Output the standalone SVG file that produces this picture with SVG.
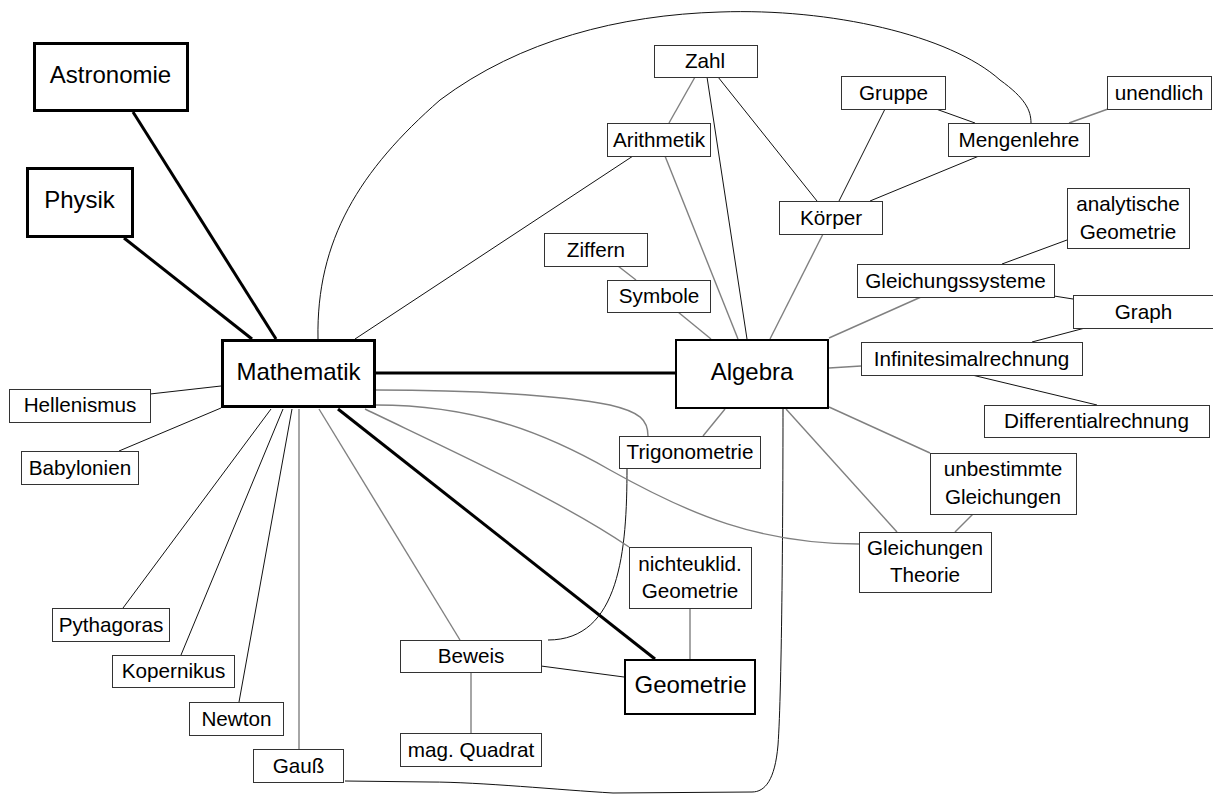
<svg xmlns="http://www.w3.org/2000/svg" width="1213" height="794" viewBox="0 0 1213 794">
<style>
.bg{fill:#fff}
.n rect{fill:#fff;stroke:#333;stroke-width:1}
.b rect{fill:#fff;stroke:#000;stroke-width:3}
.m rect{fill:#fff;stroke:#000;stroke-width:2}
text{font-family:"Liberation Sans",Arial,sans-serif;fill:#000;text-anchor:middle}
.n text{font-size:20.7px}
.b text,.m text{font-size:24px}
.k{stroke:#000;stroke-width:3;fill:none}
.t{stroke:#111;stroke-width:1;fill:none}
.g{stroke:#808080;stroke-width:1.4;fill:none}
</style>
<rect class="bg" x="0" y="0" width="1213" height="794"/>
<g id="connectors">
<line class="k" x1="133" y1="112" x2="276" y2="339"/>
<line class="k" x1="124" y1="238" x2="252" y2="339"/>
<line class="k" x1="376" y1="373" x2="675" y2="373"/>
<line class="k" x1="338" y1="409" x2="655" y2="659"/>
<line class="t" x1="150" y1="394" x2="221" y2="386"/>
<line class="t" x1="119" y1="451" x2="221" y2="408"/>
<line class="t" x1="123" y1="608" x2="271" y2="409"/>
<line class="t" x1="181" y1="655" x2="283" y2="409"/>
<line class="t" x1="239" y1="702" x2="292" y2="409"/>
<line class="t" x1="355" y1="339" x2="633" y2="156"/>
<line class="t" x1="707" y1="77" x2="747" y2="339"/>
<line class="t" x1="718" y1="77" x2="817" y2="201"/>
<line class="t" x1="885" y1="109" x2="839" y2="201"/>
<line class="t" x1="936" y1="109" x2="975" y2="123"/>
<line class="t" x1="979" y1="156" x2="870" y2="201"/>
<line class="t" x1="1002" y1="264" x2="1067" y2="240"/>
<line class="t" x1="1054" y1="296" x2="1073" y2="299"/>
<line class="t" x1="1085" y1="328" x2="1032" y2="342"/>
<line class="t" x1="972" y1="375" x2="1097" y2="405"/>
<line class="t" x1="541" y1="666" x2="624" y2="677"/>
<path class="t" d="M318,339 C316,240 360,170 440,100 C520,40 620,15 720,12 C830,8 950,35 1000,80 C1025,98 1031,110 1031,123"/>
<path class="t" d="M627,468 C627,550 620,640 548,640"/>
<path class="t" d="M783,409 C783,500 782,690 778,745 C775,780 765,792 752,792 L613,793 C560,790 480,782 430,782 L345,781"/>
<line class="g" x1="299" y1="409" x2="299" y2="749"/>
<line class="g" x1="319" y1="409" x2="460" y2="640"/>
<path class="g" d="M376,390 C470,390 560,395 610,405 C640,412 648,420 648,436"/>
<path class="g" d="M376,405 C470,405 540,430 610,470 C690,515 760,544 859,544"/>
<path class="g" d="M365,409 C450,450 560,500 629,547"/>
<line class="g" x1="695" y1="77" x2="669" y2="123"/>
<line class="g" x1="665" y1="156" x2="738" y2="339"/>
<line class="g" x1="618" y1="266" x2="636" y2="280"/>
<line class="g" x1="678" y1="312" x2="711" y2="339"/>
<line class="g" x1="823" y1="234" x2="770" y2="339"/>
<line class="g" x1="1108" y1="109" x2="1069" y2="123"/>
<line class="g" x1="921" y1="297" x2="829" y2="338"/>
<line class="g" x1="829" y1="368" x2="861" y2="366"/>
<line class="g" x1="829" y1="407" x2="930" y2="453"/>
<line class="g" x1="786" y1="409" x2="897" y2="532"/>
<line class="g" x1="973" y1="514" x2="955" y2="532"/>
<line class="g" x1="703" y1="436" x2="725" y2="409"/>
<line class="g" x1="690" y1="608" x2="690" y2="659"/>
<line class="g" x1="471" y1="672" x2="471" y2="733"/>
</g>
<g id="astronomie" class="b"><rect x="34.5" y="43.5" width="153" height="67"/><text x="110.5" y="83">Astronomie</text></g>
<g id="physik" class="b"><rect x="27.5" y="168.5" width="105" height="68"/><text x="79.5" y="208">Physik</text></g>
<g id="mathematik" class="b"><rect x="222.5" y="340.5" width="152" height="66"/><text x="298.5" y="380">Mathematik</text></g>
<g id="algebra" class="m"><rect x="676" y="340" width="152" height="68"/><text x="752" y="380">Algebra</text></g>
<g id="geometrie" class="m"><rect x="625" y="660" width="130" height="54"/><text x="690.5" y="693">Geometrie</text></g>
<g id="zahl" class="n"><rect x="654.5" y="45.5" width="103" height="32"/><text x="705" y="68">Zahl</text></g>
<g id="arithmetik" class="n"><rect x="607.5" y="123.5" width="103" height="33"/><text x="659" y="147">Arithmetik</text></g>
<g id="ziffern" class="n"><rect x="544.5" y="233.5" width="103" height="33"/><text x="596" y="257">Ziffern</text></g>
<g id="symbole" class="n"><rect x="607.5" y="280.5" width="103" height="32"/><text x="659" y="303">Symbole</text></g>
<g id="koerper" class="n"><rect x="779.5" y="201.5" width="103" height="33"/><text x="831" y="225">Körper</text></g>
<g id="gruppe" class="n"><rect x="841.5" y="76.5" width="104" height="33"/><text x="893.5" y="100">Gruppe</text></g>
<g id="mengenlehre" class="n"><rect x="948.5" y="123.5" width="141" height="33"/><text x="1019" y="147">Mengenlehre</text></g>
<g id="unendlich" class="n"><rect x="1107.5" y="76.5" width="104" height="33"/><text x="1159" y="100">unendlich</text></g>
<g id="analytische" class="n"><rect x="1067.5" y="188.5" width="122" height="60"/><text x="1128" y="211">analytische</text><text x="1128" y="239">Geometrie</text></g>
<g id="gleichungssysteme" class="n"><rect x="857.5" y="264.5" width="197" height="33"/><text x="955.5" y="288">Gleichungssysteme</text></g>
<g id="graph" class="n"><rect x="1073.5" y="295.5" width="141" height="33"/><text x="1143.5" y="319">Graph</text></g>
<g id="infinitesimal" class="n"><rect x="861.5" y="342.5" width="221" height="33"/><text x="971.5" y="366">Infinitesimalrechnung</text></g>
<g id="differential" class="n"><rect x="984.5" y="405.5" width="225" height="32"/><text x="1096.5" y="428">Differentialrechnung</text></g>
<g id="unbestimmte" class="n"><rect x="930.5" y="453.5" width="146" height="61"/><text x="1003" y="476">unbestimmte</text><text x="1003" y="504">Gleichungen</text></g>
<g id="gleichungen-theorie" class="n"><rect x="859.5" y="532.5" width="132" height="60"/><text x="925" y="555">Gleichungen</text><text x="925" y="582">Theorie</text></g>
<g id="trigonometrie" class="n"><rect x="619.5" y="436.5" width="141" height="32"/><text x="690" y="459">Trigonometrie</text></g>
<g id="nichteuklid" class="n"><rect x="629.5" y="547.5" width="122" height="61"/><text x="690" y="571">nichteuklid.</text><text x="690" y="598">Geometrie</text></g>
<g id="beweis" class="n"><rect x="400.5" y="640.5" width="141" height="32"/><text x="471" y="663">Beweis</text></g>
<g id="magquadrat" class="n"><rect x="400.5" y="733.5" width="141" height="33"/><text x="471" y="757">mag. Quadrat</text></g>
<g id="hellenismus" class="n"><rect x="9.5" y="389.5" width="141" height="33"/><text x="80" y="412">Hellenismus</text></g>
<g id="babylonien" class="n"><rect x="21.5" y="451.5" width="117" height="33"/><text x="80" y="475">Babylonien</text></g>
<g id="pythagoras" class="n"><rect x="52.5" y="608.5" width="117" height="33"/><text x="111" y="632">Pythagoras</text></g>
<g id="kopernikus" class="n"><rect x="112.5" y="655.5" width="122" height="32"/><text x="173.5" y="678">Kopernikus</text></g>
<g id="newton" class="n"><rect x="189.5" y="702.5" width="94" height="33"/><text x="236.5" y="726">Newton</text></g>
<g id="gauss" class="n"><rect x="253.5" y="749.5" width="90" height="33"/><text x="298.5" y="773">Gauß</text></g>
</svg>
